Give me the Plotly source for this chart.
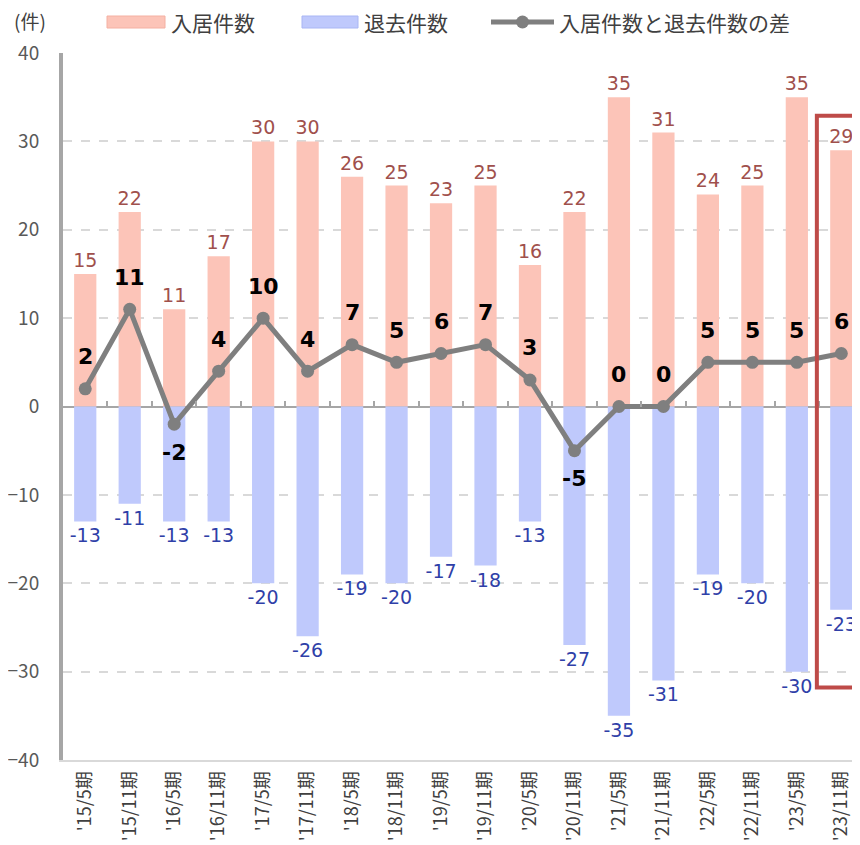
import plotly.graph_objects as go

categories = ["'15/5期", "'15/11期", "'16/5期", "'16/11期", "'17/5期", "'17/11期",
              "'18/5期", "'18/11期", "'19/5期", "'19/11期", "'20/5期", "'20/11期",
              "'21/5期", "'21/11期", "'22/5期", "'22/11期", "'23/5期", "'23/11期"]
move_in = [15, 22, 11, 17, 30, 30, 26, 25, 23, 25, 16, 22, 35, 31, 24, 25, 35, 29]
move_out = [-13, -11, -13, -13, -20, -26, -19, -20, -17, -18, -13, -27, -35, -31, -19, -20, -30, -23]
diff = [2, 11, -2, 4, 10, 4, 7, 5, 6, 7, 3, -5, 0, 0, 5, 5, 5, 6]
y_ticks = [-40, -30, -20, -10, 0, 10, 20, 30, 40]
legend_names = ["入居件数", "退去件数", "入居件数と退去件数の差"]

JP = "Noto Sans CJK JP"
NUM = "DejaVu Sans"
PINK = "#FCC4B8"
BLUE = "#BFC9FC"
GRAY = "#7F7F7F"
x_idx = list(range(len(categories)))

fig = go.Figure()
fig.add_trace(go.Bar(
    x=x_idx, y=move_in, name=legend_names[0], width=0.5,
    marker=dict(color=PINK, line=dict(width=0)),
    text=[str(v) for v in move_in], textposition="outside", constraintext="none",
    textfont=dict(family=NUM, size=19, color="#A0504C"), cliponaxis=False,
))
fig.add_trace(go.Bar(
    x=x_idx, y=move_out, name=legend_names[1], width=0.5,
    marker=dict(color=BLUE, line=dict(width=0)),
    text=[str(v) for v in move_out], textposition="outside", constraintext="none",
    textfont=dict(family=NUM, size=19, color="#2F3FA8"), cliponaxis=False,
))
fig.add_trace(go.Scatter(
    x=x_idx, y=diff, name=legend_names[2], mode="lines+markers",
    line=dict(color=GRAY, width=5),
    marker=dict(color=GRAY, size=13), cliponaxis=False,
))
# dummy trace for zero-line tick axis
fig.add_trace(go.Scatter(x=[0], y=[0], xaxis="x2", mode="markers",
                         marker=dict(opacity=0), showlegend=False, hoverinfo="skip"))

for i, d in enumerate(diff):
    fig.add_annotation(
        x=i, y=d, text=f"<b>{d}</b>", showarrow=False,
        yshift=(-28 if d < 0 else 32),
        font=dict(family=NUM, size=22, color="#000000"),
    )

# pixel -> paper helpers (plot area on screen: left 63, width 797, top 53, height 707)
def px(x):
    return (x - 63) / 797.0

def py(y):
    return (760 - y) / 707.0

fig.add_annotation(xref="paper", yref="paper", x=px(12), y=py(21),
                   xanchor="left", yanchor="middle", text="(件)", showarrow=False,
                   font=dict(family=JP, size=19, color="#404040"))

# custom legend
fig.add_shape(type="rect", xref="paper", yref="paper", x0=px(107), x1=px(165),
              y0=py(28), y1=py(16), fillcolor=PINK, line=dict(color="#F4B0A2", width=1))
fig.add_annotation(xref="paper", yref="paper", x=px(169), y=py(22), xanchor="left",
                   yanchor="middle", text=legend_names[0], showarrow=False,
                   font=dict(family=JP, size=21, color="#404040"))
fig.add_shape(type="rect", xref="paper", yref="paper", x0=px(302), x1=px(358),
              y0=py(28), y1=py(16), fillcolor=BLUE, line=dict(color="#A9B6F4", width=1))
fig.add_annotation(xref="paper", yref="paper", x=px(362), y=py(22), xanchor="left",
                   yanchor="middle", text=legend_names[1], showarrow=False,
                   font=dict(family=JP, size=21, color="#404040"))
fig.add_shape(type="line", xref="paper", yref="paper", x0=px(491), x1=px(554),
              y0=py(22), y1=py(22), line=dict(color=GRAY, width=5))
fig.add_shape(type="circle", xref="paper", yref="paper", x0=px(516), x1=px(529),
              y0=py(28.5), y1=py(15.5), fillcolor=GRAY, line=dict(width=0))
fig.add_annotation(xref="paper", yref="paper", x=px(557), y=py(22), xanchor="left",
                   yanchor="middle", text=legend_names[2], showarrow=False,
                   font=dict(family=JP, size=21, color="#404040"))

fig.add_shape(type="rect", xref="x", yref="y", x0=16.45, x1=17.9, y0=-31.8, y1=32.9,
              line=dict(color="#BE4B48", width=4), fillcolor="rgba(0,0,0,0)", layer="above")

xr = [-0.5, 17.42]
fig.update_layout(
    width=852, height=837,
    margin=dict(l=55, r=0, t=45, b=85),
    plot_bgcolor="white", paper_bgcolor="white",
    barmode="relative",
    showlegend=False,
    xaxis=dict(range=xr, tickmode="array", tickvals=x_idx, ticktext=categories,
               tickangle=-90, tickfont=dict(family=JP, size=18, color="#404040"),
               showgrid=False, showline=True, linecolor="#D9D9D9", linewidth=2,
               ticks="", zeroline=False, ticklabelstandoff=2, automargin=False),
    xaxis2=dict(overlaying="x", anchor="free", position=0.5, range=xr,
                tickmode="array", tickvals=[i + 0.5 for i in x_idx[:-1]],
                showticklabels=False, ticks="inside", ticklen=6, tickwidth=2,
                tickcolor="#A6A6A6", showline=False, showgrid=False, zeroline=False),
    yaxis=dict(range=[-40, 40], tickmode="array", tickvals=y_ticks,
               tickfont=dict(family=JP, size=19, color="#595959"),
               showgrid=True, gridcolor="#D9D9D9", griddash="dash", gridwidth=1.5,
               showline=True, linecolor="#A6A6A6", linewidth=4,
               zeroline=True, zerolinecolor="#A6A6A6", zerolinewidth=2,
               ticks="", ticklabelstandoff=16, automargin=False),
)

fig.write_html("out.html")
